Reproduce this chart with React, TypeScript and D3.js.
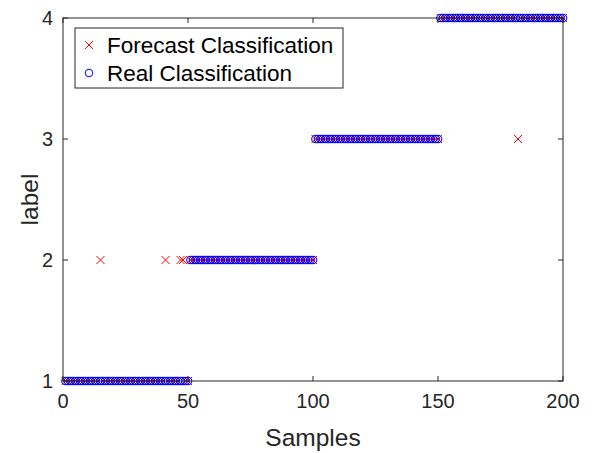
import React, { useEffect, useRef } from "react";
import * as d3 from "d3";

// labels per sample (samples 1..200), written in groups of 10
const realLabels =
  "1111111111 1111111111 1111111111 1111111111 1111111111 " +
  "2222222222 2222222222 2222222222 2222222222 2222222222 " +
  "3333333333 3333333333 3333333333 3333333333 3333333333 " +
  "4444444444 4444444444 4444444444 4444444444 4444444444";
const forecastLabels =
  "1111111111 1111211111 1111111111 1111111111 2111112211 " +
  "2222222222 2222222222 2222222222 2222222222 2222222222 " +
  "3333333333 3333333333 3333333333 3333333333 3333333333 " +
  "4444444444 4444444444 4444444444 4344444444 4444444444";

const xTicks = [0, 50, 100, 150, 200];
const yTicks = [1, 2, 3, 4];
const legendNames = ["Forecast Classification", "Real Classification"];

const parse = (s: string) =>
  s.replace(/\s/g, "").split("").map((c, i) => ({ x: i + 1, y: +c }));

export default function App() {
  const ref = useRef<SVGSVGElement>(null);

  useEffect(() => {
    const svg = d3.select(ref.current);
    svg.selectAll("*").remove();

    const left = 63, right = 563, top = 18, bottom = 381;
    const font = "'Liberation Sans', Arial, sans-serif";

    const x = d3.scaleLinear().domain([0, 200]).range([left, right]);
    const y = d3.scaleLinear().domain([1, 4]).range([bottom, top]);

    const real = parse(realLabels);
    const forecast = parse(forecastLabels);

    const g = svg.append("g");

    // forecast crosses
    const s = 4;
    const cross = (cx: number, cy: number) =>
      `M${cx - s},${cy - s}L${cx + s},${cy + s}M${cx - s},${cy + s}L${cx + s},${cy - s}`;
    g.selectAll(".fc")
      .data(forecast)
      .join("path")
      .attr("class", "fc")
      .attr("d", d => cross(x(d.x), y(d.y)))
      .attr("stroke", "#ff0000")
      .attr("stroke-width", 1)
      .attr("fill", "none");

    // real circles
    g.selectAll(".rc")
      .data(real)
      .join("circle")
      .attr("class", "rc")
      .attr("cx", d => x(d.x))
      .attr("cy", d => y(d.y))
      .attr("r", 3.8)
      .attr("stroke", "#0000ff")
      .attr("stroke-width", 1.1)
      .attr("fill", "none");

    // axes box
    const axisColor = "#262626";
    svg.append("rect")
      .attr("x", left).attr("y", top)
      .attr("width", right - left).attr("height", bottom - top)
      .attr("fill", "none").attr("stroke", axisColor).attr("stroke-width", 1);

    const tl = 5;
    xTicks.forEach(t => {
      svg.append("line").attr("x1", x(t)).attr("x2", x(t)).attr("y1", bottom).attr("y2", bottom - tl).attr("stroke", axisColor);
      svg.append("line").attr("x1", x(t)).attr("x2", x(t)).attr("y1", top).attr("y2", top + tl).attr("stroke", axisColor);
      svg.append("text")
        .attr("x", x(t)).attr("y", bottom + 27)
        .attr("text-anchor", "middle")
        .attr("font-family", font).attr("font-size", 20)
        .attr("fill", axisColor)
        .text(t);
    });
    yTicks.forEach(t => {
      svg.append("line").attr("x1", left).attr("x2", left + tl).attr("y1", y(t)).attr("y2", y(t)).attr("stroke", axisColor);
      svg.append("line").attr("x1", right).attr("x2", right - tl).attr("y1", y(t)).attr("y2", y(t)).attr("stroke", axisColor);
      svg.append("text")
        .attr("x", left - 10).attr("y", y(t))
        .attr("dy", "0.35em")
        .attr("text-anchor", "end")
        .attr("font-family", font).attr("font-size", 20)
        .attr("fill", axisColor)
        .text(t);
    });

    svg.append("text")
      .attr("x", (left + right) / 2).attr("y", 446)
      .attr("text-anchor", "middle")
      .attr("font-family", font).attr("font-size", 24.5)
      .attr("fill", axisColor)
      .text("Samples");
    svg.append("text")
      .attr("transform", `translate(38,${(top + bottom) / 2}) rotate(-90)`)
      .attr("text-anchor", "middle")
      .attr("font-family", font).attr("font-size", 24.5)
      .attr("fill", axisColor)
      .text("label");

    // legend
    const lg = svg.append("g").attr("transform", "translate(75,28)");
    lg.append("rect")
      .attr("width", 268).attr("height", 60)
      .attr("fill", "white").attr("stroke", axisColor).attr("stroke-width", 1);
    legendNames.forEach((name, i) => {
      const cy = 17 + i * 28;
      if (i === 0) {
        lg.append("path")
          .attr("d", cross(14, cy))
          .attr("stroke", "#ff0000").attr("fill", "none");
      } else {
        lg.append("circle").attr("cx", 14).attr("cy", cy).attr("r", 3.8)
          .attr("stroke", "#0000ff").attr("fill", "none");
      }
      lg.append("text")
        .attr("x", 32).attr("y", cy).attr("dy", "0.35em")
        .attr("font-family", font).attr("font-size", 22.5)
        .attr("fill", "#000")
        .text(name);
    });
  }, []);

  return (
    <svg ref={ref} width={594} height={453} style={{ position: "absolute", left: 0, top: 0 }} />
  );
}
